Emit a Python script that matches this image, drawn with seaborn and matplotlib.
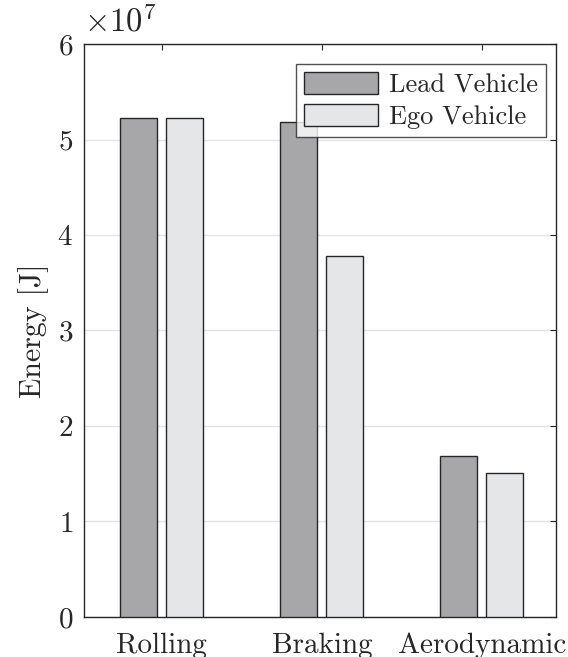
import matplotlib
matplotlib.use("Agg")
import matplotlib.pyplot as plt
import seaborn as sns
import pandas as pd
from matplotlib.ticker import ScalarFormatter

categories = ["Rolling", "Braking", "Aerodynamic"]
lead_vals = [5.225e7, 5.185e7, 1.686e7]
ego_vals = [5.222e7, 3.775e7, 1.508e7]
series = ["Lead Vehicle", "Ego Vehicle"]
colors = ["#a6a7aa", "#e5e6e8"]

df = pd.DataFrame({
    "Category": categories * 2,
    "Energy": lead_vals + ego_vals,
    "Vehicle": [series[0]] * 3 + [series[1]] * 3,
})

sns.set_style("white")
plt.rcParams["font.family"] = ["cmr10", "DejaVu Serif"]
plt.rcParams["mathtext.fontset"] = "cm"
plt.rcParams["axes.formatter.use_mathtext"] = True
plt.rcParams["font.size"] = 21

fig = plt.figure(figsize=(5.68, 6.57), dpi=100)
ax = fig.add_axes([0.148, 0.061, 0.831, 0.872])

sns.barplot(data=df, x="Category", y="Energy", hue="Vehicle", order=categories,
            hue_order=series, palette=colors, width=0.576, gap=0.2,
            edgecolor="#262626", linewidth=1.0, ax=ax, errorbar=None, zorder=3)

ax.set_xlim(-0.486, 2.464)
ax.set_ylim(0, 6e7)
ax.set_yticks([0, 1e7, 2e7, 3e7, 4e7, 5e7, 6e7])
fmt = ScalarFormatter(useMathText=True)
fmt.set_powerlimits((0, 0))
ax.yaxis.set_major_formatter(fmt)
ax.yaxis.OFFSETTEXTPAD = 9
ax.yaxis.get_offset_text().set_fontsize(23.5)
ax.yaxis.get_offset_text().set_color("#262626")

ax.set_xlabel("")
ax.set_ylabel("Energy [J]", fontsize=21.5, color="#262626", labelpad=6)
ax.grid(axis="y", color="#e3e3e3", linewidth=1.0, zorder=0)
ax.set_axisbelow(True)

for s in ax.spines.values():
    s.set_color("#262626")
    s.set_linewidth(1.0)
    s.set_visible(True)
ax.tick_params(direction="in", length=4, width=0.8, color="#262626",
               top=True, right=True, labelsize=21, labelcolor="#262626")
ax.tick_params(axis="y", pad=8)
ax.tick_params(axis="x", pad=11.5)

leg = ax.legend(loc="upper right", bbox_to_anchor=(0.978, 0.965), frameon=True,
                fancybox=False, edgecolor="#262626", fontsize=19,
                handlelength=2.8, handleheight=0.9, borderpad=0.3,
                labelspacing=0.25, handletextpad=0.4, borderaxespad=0.0)
leg.get_frame().set_linewidth(1.0)
for t in leg.get_texts():
    t.set_color("#262626")

fig.savefig("out.png", dpi=100)
